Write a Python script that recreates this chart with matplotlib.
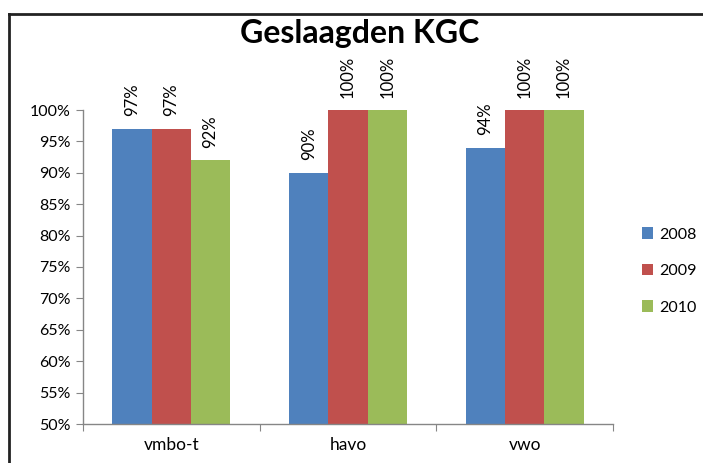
import matplotlib
matplotlib.use("Agg")
import matplotlib.pyplot as plt
import numpy as np
from matplotlib.lines import Line2D

categories = ["vmbo-t", "havo", "vwo"]
years = ["2008", "2009", "2010"]
values_2008 = [0.97, 0.90, 0.94]
values_2009 = [0.97, 1.00, 1.00]
values_2010 = [0.92, 1.00, 1.00]
yticks = [0.50, 0.55, 0.60, 0.65, 0.70, 0.75, 0.80, 0.85, 0.90, 0.95, 1.00]
colors = ["#4F81BD", "#C0504D", "#9BBB59"]

plt.rcParams['font.family'] = ['Lato', 'DejaVu Sans']

fig = plt.figure(figsize=(7.03, 4.63), dpi=100)
ax = fig.add_axes([83/703, 1-424/463, (613-83)/703, (424-110)/463])

x = np.arange(len(categories))
w = 1/4.5
series = [values_2008, values_2009, values_2010]
for i, (vals, yr, c) in enumerate(zip(series, years, colors)):
    pos = x + (i-1)*w
    ax.bar(pos, vals, width=w, color=c, label=yr, zorder=2)
    for p, v in zip(pos, vals):
        ax.annotate(f"{int(round(v*100))}%", (p, v), xytext=(0, 9), textcoords="offset points",
                    rotation=90, ha="center", va="bottom", fontsize=12, color="#000000",
                    annotation_clip=False)

ax.set_xlim(-0.5, 2.5)
ax.set_ylim(0.5, 1.0)
ax.set_yticks(yticks)
ax.set_yticklabels([f"{int(round(t*100))}%" for t in yticks], fontsize=11.5)
ax.set_xticks([-0.5, 0.5, 1.5, 2.5])
ax.set_xticklabels([])
ax.set_xticks(x, minor=True)
ax.set_xticklabels(categories, minor=True, fontsize=12.5)
ax.tick_params(axis='x', which='minor', length=0, pad=9)
ax.tick_params(axis='x', which='major', length=5, color="#868686", direction='out')
ax.tick_params(axis='y', length=5, color="#868686", direction='out', pad=4)
for s in ["top", "right"]:
    ax.spines[s].set_visible(False)
for s in ["left", "bottom"]:
    ax.spines[s].set_color("#868686")
    ax.spines[s].set_linewidth(1)

fig.text(360/703, 1-43/463, "Geslaagden KGC", ha="center", va="baseline",
         fontsize=23, fontweight="bold")

leg = ax.legend(loc="center left", bbox_to_anchor=(634/703, 1-271/463), bbox_transform=fig.transFigure,
                frameon=False, fontsize=11.5, handlelength=0.7, handleheight=0.7,
                handletextpad=0.4, labelspacing=1.4, borderpad=0)

fig.add_artist(Line2D([9/703, 1.0], [1-14/463, 1-14/463], transform=fig.transFigure, color="#222222", lw=2))
fig.add_artist(Line2D([9/703, 9/703], [0, 1-14/463], transform=fig.transFigure, color="#222222", lw=2))

fig.savefig("out.png", dpi=100)
